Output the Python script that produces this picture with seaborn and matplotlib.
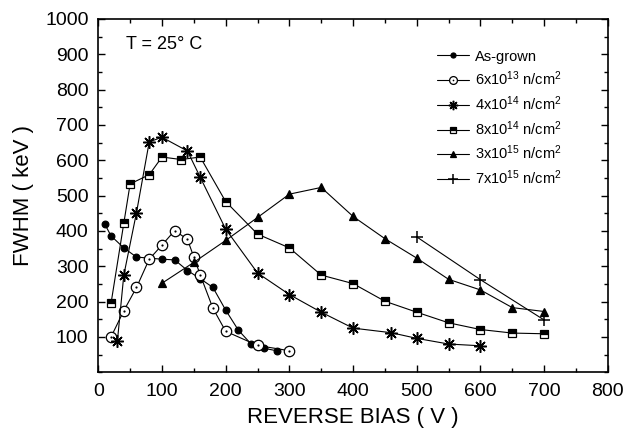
import matplotlib
matplotlib.use("Agg")
import matplotlib.pyplot as plt
import seaborn as sns
import pandas as pd
from matplotlib.ticker import MultipleLocator, FixedLocator
from matplotlib.legend_handler import HandlerTuple

# FWHM (keV) versus reverse bias (V) for each neutron fluence
as_grown_v = [10, 20, 40, 60, 100, 120, 140, 160, 180, 200, 220, 240, 260, 280]
as_grown_fwhm = [420, 386, 352, 326, 320, 318, 288, 265, 240, 176, 119, 80, 68, 61]

f6e13_v = [20, 40, 60, 80, 100, 120, 140, 150, 160, 180, 200, 250, 300]
f6e13_fwhm = [100, 174, 240, 320, 360, 401, 376, 326, 276, 181, 116, 76, 61]

f4e14_v = [30, 40, 60, 80, 100, 140, 160, 200, 250, 300, 350, 400, 460, 500, 550, 600]
f4e14_fwhm = [88, 274, 452, 652, 665, 626, 552, 405, 281, 220, 170, 125, 112, 96, 80, 75]

f8e14_v = [20, 40, 50, 80, 100, 130, 160, 200, 250, 300, 350, 400, 450, 500, 550, 600, 650, 700]
f8e14_fwhm = [195, 421, 533, 559, 609, 602, 609, 483, 391, 352, 275, 251, 201, 170, 140, 121, 111, 109]

f3e15_v = [100, 150, 200, 250, 300, 350, 400, 450, 500, 550, 600, 650, 700]
f3e15_fwhm = [252, 311, 373, 438, 504, 523, 441, 378, 323, 263, 233, 183, 172]

f7e15_v = [500, 600, 700]
f7e15_fwhm = [383, 262, 148]

x_ticks = [0, 100, 200, 300, 400, 500, 600, 700, 800]
y_ticks = [100, 200, 300, 400, 500, 600, 700, 800, 900, 1000]

labels = [
    "As-grown",
    "6x10$^{13}$ n/cm$^{2}$",
    "4x10$^{14}$ n/cm$^{2}$",
    "8x10$^{14}$ n/cm$^{2}$",
    "3x10$^{15}$ n/cm$^{2}$",
    "7x10$^{15}$ n/cm$^{2}$",
]

sns.set_style("ticks")
plt.rcParams["font.family"] = ["Liberation Sans", "DejaVu Sans"]
plt.rcParams["mathtext.default"] = "regular"
plt.rcParams["mathtext.fontset"] = "custom"
plt.rcParams["mathtext.rm"] = "Liberation Sans"
plt.rcParams["text.color"] = "black"
plt.rcParams["axes.labelcolor"] = "black"
plt.rcParams["xtick.color"] = "black"
plt.rcParams["ytick.color"] = "black"
plt.rcParams["axes.edgecolor"] = "black"

fig = plt.figure(figsize=(6.26, 4.38), dpi=100)
ax = fig.add_axes([0.157, 0.150, 0.814, 0.807])

series = [
    (as_grown_v, as_grown_fwhm, dict(marker="o", markersize=4.8, markerfacecolor="black")),
    (f6e13_v, f6e13_fwhm, dict(marker="o", markersize=7.5, markerfacecolor="white")),
    (f4e14_v, f4e14_fwhm, dict(marker=(8, 2, 0), markersize=9, markerfacecolor="black",
                               markeredgewidth=1.1)),
    (f8e14_v, f8e14_fwhm, dict(marker="s", markersize=6, fillstyle="top",
                               markerfacecolor="black", markerfacecoloralt="white")),
    (f3e15_v, f3e15_fwhm, dict(marker="^", markersize=6, markerfacecolor="black")),
    (f7e15_v, f7e15_fwhm, dict(marker="+", markersize=9, markeredgewidth=1.1)),
]

handles = []
for (xv, yv, style), lab in zip(series, labels):
    df = pd.DataFrame({"bias": xv, "fwhm": yv})
    sns.lineplot(data=df, x="bias", y="fwhm", ax=ax, color="black", linewidth=0.8)
    line = ax.lines[-1]
    line.set_marker(style["marker"])
    line.set_markersize(style["markersize"])
    line.set_markeredgecolor("black")
    line.set_markeredgewidth(style.get("markeredgewidth", 0.9))
    if "fillstyle" in style:
        line.set_fillstyle(style["fillstyle"])
    if "markerfacecolor" in style:
        line.set_markerfacecolor(style["markerfacecolor"])
    if "markerfacecoloralt" in style:
        line.set_markerfacecoloralt(style["markerfacecoloralt"])
    handles.append(line)

# centre dots of the open circles
df_dot = pd.DataFrame({"bias": f6e13_v, "fwhm": f6e13_fwhm})
sns.lineplot(data=df_dot, x="bias", y="fwhm", ax=ax, color="black", linestyle="",
             marker="o", markersize=1.6, markeredgewidth=0, markerfacecolor="black")
dot_line = ax.lines[-1]
handles[1] = (handles[1], dot_line)

ax.set_xlim(0, 800)
ax.set_ylim(0, 1000)
ax.xaxis.set_major_locator(FixedLocator(x_ticks))
ax.yaxis.set_major_locator(FixedLocator(y_ticks))
ax.xaxis.set_minor_locator(MultipleLocator(50))
ax.yaxis.set_minor_locator(MultipleLocator(50))
ax.tick_params(which="both", direction="in", top=True, right=True, width=1.0, colors="black")
ax.tick_params(which="major", length=5, labelsize=14, pad=8)
ax.tick_params(which="minor", length=3)
ax.tick_params(axis="y", which="major", pad=7)
for sp in ax.spines.values():
    sp.set_linewidth(1.2)
    sp.set_color("black")

ax.set_xlabel("REVERSE BIAS ( V )", fontsize=16, labelpad=5, color="black")
ax.set_ylabel("FWHM ( keV )", fontsize=16, labelpad=8, color="black")

fig.text(126 / 626, 1 - 44.5 / 438, "T = 25° C", fontsize=13, va="center", ha="left",
         color="black")

leg = ax.legend(handles, labels, loc="upper left", bbox_to_anchor=(437 / 626, 1 - 49.5 / 438),
                bbox_transform=fig.transFigure, frameon=False, fontsize=10.5,
                handlelength=2.2, handletextpad=0.4, labelspacing=0.42, borderpad=0,
                borderaxespad=0, markerscale=0.75,
                handler_map={tuple: HandlerTuple(ndivide=1, pad=0)})
for t in leg.get_texts():
    t.set_color("black")

fig.savefig("out.png", dpi=100)
